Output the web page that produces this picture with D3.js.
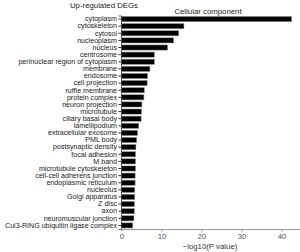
<!DOCTYPE html>
<html>
<head>
<meta charset="utf-8">
<script src="https://cdn.jsdelivr.net/npm/d3@7"></script>
<style>
  body { margin: 0; background: #fff; }
  svg text { font-family: "Liberation Sans", Arial, sans-serif; }
</style>
</head>
<body>
<svg width="300" height="252"></svg>
<script>
var svg = d3.select("svg"),
    width = +svg.attr("width"),
    height = +svg.attr("height");

// GO terms (cellular component), top to bottom
var terms = ["cytoplasm", "cytoskeleton", "cytosol", "nucleoplasm", "nucleus",
  "centrosome", "perinuclear region of cytoplasm", "membrane", "endosome",
  "cell projection", "ruffle membrane", "protein complex", "neuron projection",
  "microtubule", "ciliary basal body", "lamellipodium", "extracellular exosome",
  "PML body", "postsynaptic density", "focal adhesion", "M band",
  "microtubule cytoskeleton", "cell-cell adherens junction",
  "endoplasmic reticulum", "nucleolus", "Golgi apparatus", "Z disc", "axon",
  "neuromuscular junction", "Cul3-RING ubiquitin ligase complex"];

// -log10(P value)
var logP = [42.5, 15.6, 14.3, 13.0, 11.5,
  8.2, 8.2, 7.1, 6.5,
  6.4, 5.7, 5.6, 5.1,
  5.0, 4.9, 4.3, 4.0,
  3.8, 3.6, 3.5, 3.5,
  3.5, 3.4,
  3.4, 3.3, 3.3, 3.2, 3.2,
  3.1, 2.8];

var xTicks = [0, 10, 20, 30, 40];

var margin = {left: 121.5, right: 0, top: 15.5, bottom: 23};

var x = d3.scaleLinear()
    .domain([0, 44.6])
    .range([margin.left, width]);

var y = d3.scaleBand()
    .domain(terms)
    .range([margin.top, height - margin.bottom])
    .paddingInner(0.28)
    .paddingOuter(0.14);

// bars
svg.append("g").selectAll("rect")
  .data(terms)
  .enter()
  .append("rect")
    .attr("x", x(0))
    .attr("y", function(d) { return y(d); })
    .attr("width", function(d, i) { return x(logP[i]) - x(0); })
    .attr("height", y.bandwidth())
    .style("fill", "#000")
    .style("stroke", "#888")
    .style("stroke-width", 0.5);

// y axis
var yAxis = svg.append("g")
    .attr("transform", "translate(" + (margin.left - 0.5) + ",0)")
    .call(d3.axisLeft(y).tickSize(2.5).tickPadding(1.5));
yAxis.select(".domain").attr("stroke", "#333").attr("stroke-width", 0.8);
yAxis.selectAll(".tick line").attr("stroke", "#333");
yAxis.selectAll("text").attr("font-size", 7.1).attr("fill", "#1a1a1a")
    .attr("font-family", "'Liberation Sans', Arial, sans-serif");

// x axis
var xAxis = svg.append("g")
    .attr("transform", "translate(0," + (height - margin.bottom) + ")")
    .call(d3.axisBottom(x).tickValues(xTicks).tickSize(2.5).tickSizeOuter(0).tickPadding(2));
xAxis.select(".domain").attr("stroke", "#999").attr("stroke-width", 1);
xAxis.selectAll(".tick line").attr("stroke", "#999");
xAxis.selectAll("text").attr("font-size", 7.8).attr("fill", "#555")
    .attr("font-family", "'Liberation Sans', Arial, sans-serif");

// titles
svg.append("text")
    .attr("x", 104).attr("y", 8)
    .attr("text-anchor", "middle")
    .attr("font-size", 7.8).attr("fill", "#222")
    .text("Up-regulated DEGs");

svg.append("text")
    .attr("x", 208).attr("y", 13.5)
    .attr("text-anchor", "middle")
    .attr("font-size", 7.8).attr("fill", "#222")
    .text("Cellular component");

svg.append("text")
    .attr("x", 210).attr("y", 248.5)
    .attr("text-anchor", "middle")
    .attr("font-size", 7.8).attr("fill", "#333")
    .text("\u2212log10(P value)");
</script>
</body>
</html>
